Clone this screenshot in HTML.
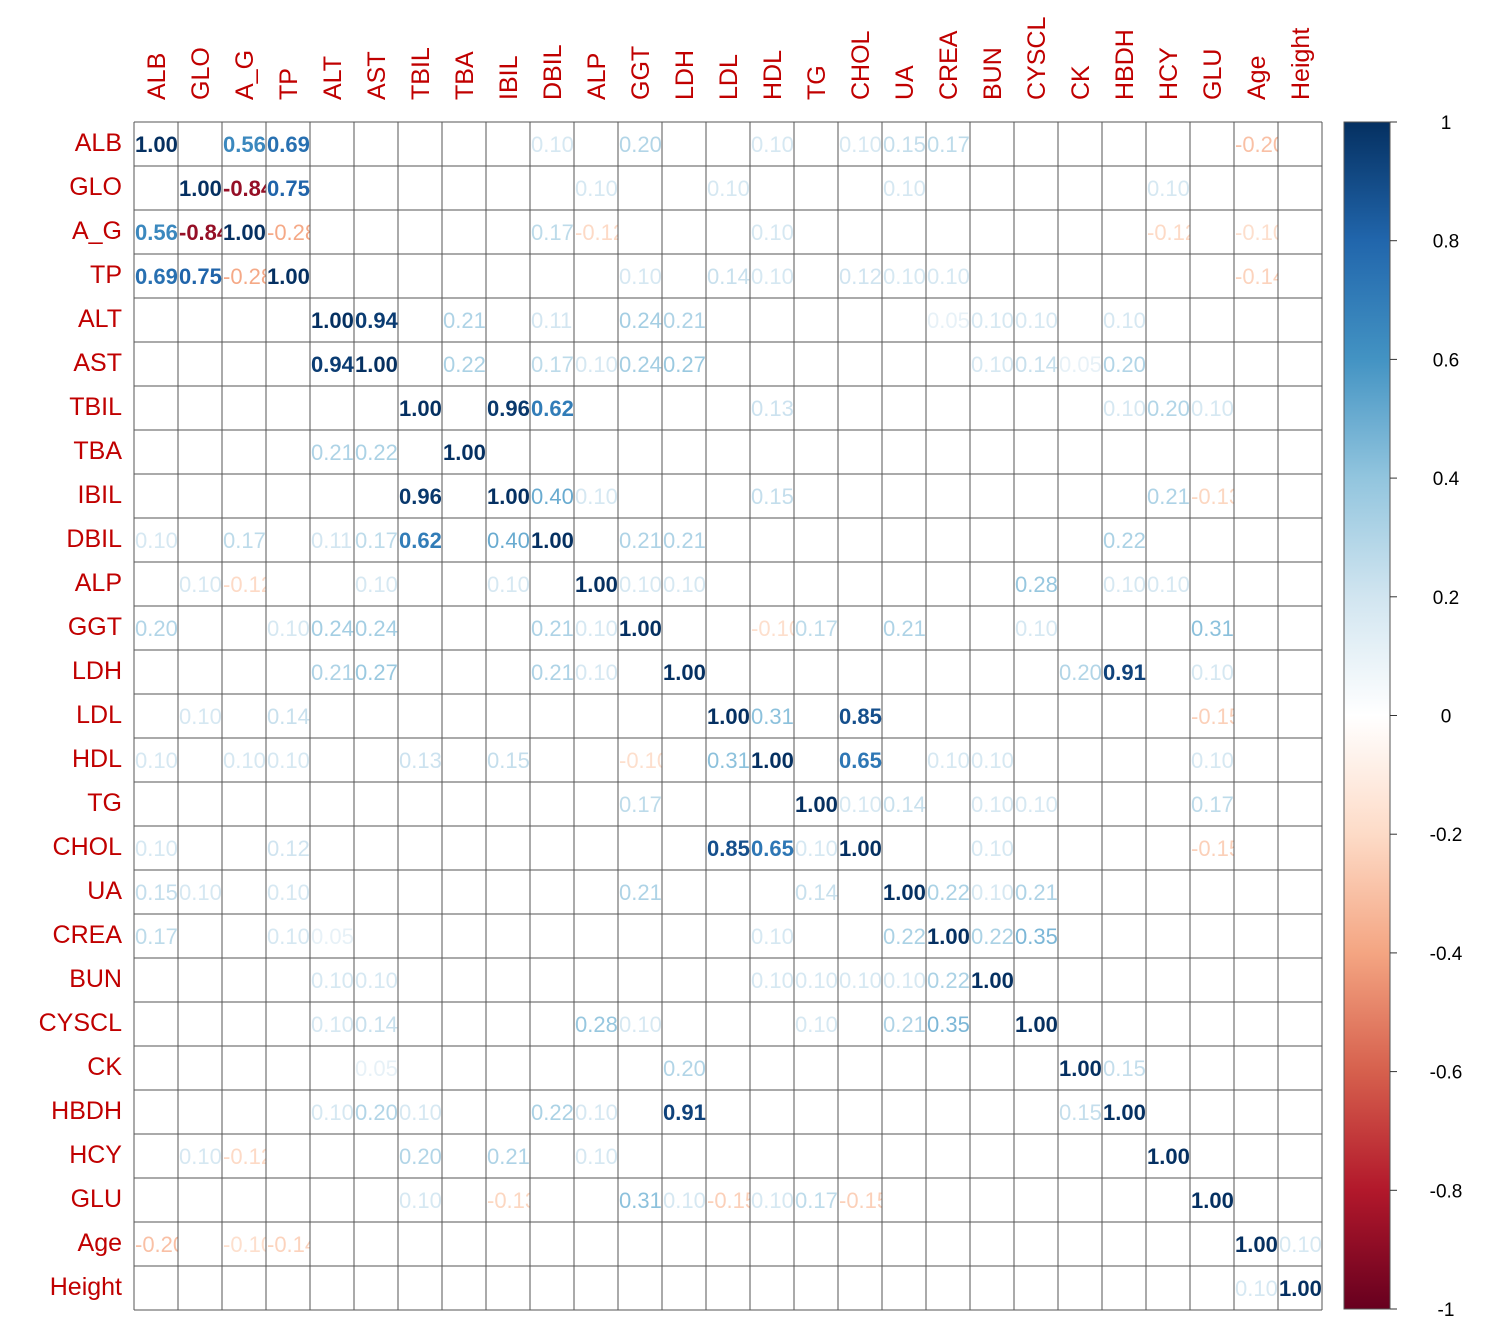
<!DOCTYPE html>
<html><head><meta charset="utf-8"><style>
body{margin:0;background:#fff;}
svg{display:block;font-family:"Liberation Sans",sans-serif;}
</style></head><body>
<svg id="chart" width="1500" height="1327"></svg>
<script>
const variables=["ALB","GLO","A_G","TP","ALT","AST","TBIL","TBA","IBIL","DBIL","ALP","GGT","LDH","LDL","HDL","TG","CHOL","UA","CREA","BUN","CYSCL","CK","HBDH","HCY","GLU","Age","Height"];
const pairA=["ALB","ALB","ALB","ALB","ALB","ALB","ALB","ALB","ALB","GLO","GLO","GLO","GLO","GLO","GLO","A_G","A_G","A_G","A_G","A_G","A_G","TP","TP","TP","TP","TP","TP","TP","ALT","ALT","ALT","ALT","ALT","ALT","ALT","ALT","ALT","AST","AST","AST","AST","AST","AST","AST","AST","AST","TBIL","TBIL","TBIL","TBIL","TBIL","TBIL","IBIL","IBIL","IBIL","IBIL","IBIL","DBIL","DBIL","DBIL","ALP","ALP","ALP","ALP","ALP","GGT","GGT","GGT","GGT","GGT","LDH","LDH","LDH","LDL","LDL","LDL","HDL","HDL","HDL","HDL","TG","TG","TG","TG","TG","CHOL","CHOL","UA","UA","UA","CREA","CREA","CK","Age","GLU","GLU"];
const pairB=["A_G","TP","DBIL","GGT","HDL","CHOL","UA","CREA","Age","A_G","TP","ALP","LDL","UA","HCY","TP","DBIL","ALP","HDL","HCY","Age","GGT","LDL","HDL","CHOL","UA","CREA","Age","AST","TBA","DBIL","GGT","LDH","CREA","BUN","CYSCL","HBDH","TBA","DBIL","ALP","GGT","LDH","BUN","CYSCL","CK","HBDH","IBIL","DBIL","HDL","HBDH","HCY","GLU","DBIL","ALP","HDL","HCY","GLU","GGT","LDH","HBDH","GGT","LDH","CYSCL","HBDH","HCY","HDL","TG","UA","CYSCL","GLU","CK","HBDH","GLU","HDL","CHOL","GLU","CHOL","CREA","BUN","GLU","CHOL","UA","BUN","CYSCL","GLU","BUN","GLU","CREA","BUN","CYSCL","BUN","CYSCL","HBDH","Height","TBIL","LDH"];
const pairR=[0.56,0.69,0.1,0.2,0.1,0.1,0.15,0.17,-0.2,-0.84,0.75,0.1,0.1,0.1,0.1,-0.28,0.17,-0.12,0.1,-0.12,-0.1,0.1,0.14,0.1,0.12,0.1,0.1,-0.14,0.94,0.21,0.11,0.24,0.21,0.05,0.1,0.1,0.1,0.22,0.17,0.1,0.24,0.27,0.1,0.14,0.05,0.2,0.96,0.62,0.13,0.1,0.2,0.1,0.4,0.1,0.15,0.21,-0.13,0.21,0.21,0.22,0.1,0.1,0.28,0.1,0.1,-0.1,0.17,0.21,0.1,0.31,0.2,0.91,0.1,0.31,0.85,-0.15,0.65,0.1,0.1,0.1,0.1,0.14,0.1,0.1,0.17,0.1,-0.15,0.22,0.1,0.21,0.22,0.35,0.15,0.1,0.1,0.1];
const cbTicks=[1,0.8,0.6,0.4,0.2,0,-0.2,-0.4,-0.6,-0.8,-1];
const cbLabels=["1","0.8","0.6","0.4","0.2","0","-0.2","-0.4","-0.6","-0.8","-1"];

const NS="http://www.w3.org/2000/svg";
const svg=document.getElementById('chart');
const X0=134,Y0=122,SZ=1188/27;
const n=variables.length;
function cx(i){return X0+i*SZ;}
function cy(i){return Y0+i*SZ;}
const stops=[[-1,[103,0,31]],[-0.8,[178,24,43]],[-0.6,[214,96,77]],[-0.4,[244,165,130]],[-0.2,[253,219,199]],[0,[255,255,255]],[0.2,[209,229,240]],[0.4,[146,197,222]],[0.6,[67,147,195]],[0.8,[33,102,172]],[1,[5,48,97]]];
function col(v){v=Math.max(-1,Math.min(1,v));for(let k=0;k<stops.length-1;k++){const a=stops[k],b=stops[k+1];if(v<=b[0]){const t=(v-a[0])/(b[0]-a[0]);const c=a[1].map((x,j)=>Math.round(x+(b[1][j]-x)*t));return `rgb(${c})`;}}return 'rgb(5,48,97)';}
function tcol(v){const s=v<0?-1:1;return col(s*Math.pow(Math.abs(v),0.75));}
function el(t,attrs){const e=document.createElementNS(NS,t);for(const k in attrs)e.setAttribute(k,attrs[k]);return e;}
function cbY(v){return Y0+(1-v)/2*1187;}

const M=[];for(let i=0;i<n;i++){M.push(new Array(n).fill(0));M[i][i]=1;}
for(let k=0;k<pairA.length;k++){const i=variables.indexOf(pairA[k]),j=variables.indexOf(pairB[k]);M[i][j]=pairR[k];M[j][i]=pairR[k];}

const defs=el('defs',{});svg.appendChild(defs);
const gCells=el('g',{});svg.appendChild(gCells);
for(let i=0;i<n;i++)for(let j=0;j<n;j++){
  const v=M[i][j];if(Math.abs(v)<0.001)continue;
  const id='c'+i+'_'+j;
  const cp=el('clipPath',{id:id});cp.appendChild(el('rect',{x:cx(j),y:cy(i),width:SZ,height:SZ}));defs.appendChild(cp);
  const t=el('text',{x:cx(j)+1,y:cy(i)+SZ/2+8,'font-size':22,fill:tcol(v),'clip-path':`url(#${id})`,'font-weight':Math.abs(v)>0.5?'bold':'normal'});
  t.textContent=v.toFixed(2);
  
  
  gCells.appendChild(t);
}
const grid=el('g',{stroke:'#555','stroke-width':1});svg.appendChild(grid);


for(let k=0;k<=n;k++){grid.appendChild(el('line',{x1:cx(k),x2:cx(k),y1:Y0,y2:Y0+1188}));grid.appendChild(el('line',{y1:cy(k),y2:cy(k),x1:X0,x2:X0+1188}));}
for(let i=0;i<n;i++){
  const r=el('text',{x:122,y:cy(i)+SZ/2+7,'text-anchor':'end','font-size':25,fill:'#c00000'});
  r.textContent=variables[i];
  
  
  svg.appendChild(r);
  const c=el('text',{x:0,y:0,'font-size':25,fill:'#c00000',transform:`translate(${cx(i)+SZ/2+9},100) rotate(-90)`});
  c.textContent=variables[i];
  
  
  svg.appendChild(c);
}
const cb=el('g',{});svg.appendChild(cb);


const grad=el('linearGradient',{id:'cbg',x1:0,y1:0,x2:0,y2:1});
for(let k=stops.length-1;k>=0;k--){grad.appendChild(el('stop',{offset:((1-stops[k][0])/2*100)+'%','stop-color':`rgb(${stops[k][1]})`}));}
defs.appendChild(grad);
cb.appendChild(el('rect',{x:1344,y:Y0,width:46,height:1187,fill:'url(#cbg)',stroke:'#555'}));
for(let k=0;k<cbTicks.length;k++){
  const y=cbY(cbTicks[k]);
  cb.appendChild(el('line',{x1:1390,x2:1397,y1:y,y2:y,stroke:'#333'}));
  const t=el('text',{x:1446,y:y+7,'text-anchor':'middle','font-size':19,fill:'#000'});
  t.textContent=cbLabels[k];
  
  
  cb.appendChild(t);
}
</script>
</body></html>
